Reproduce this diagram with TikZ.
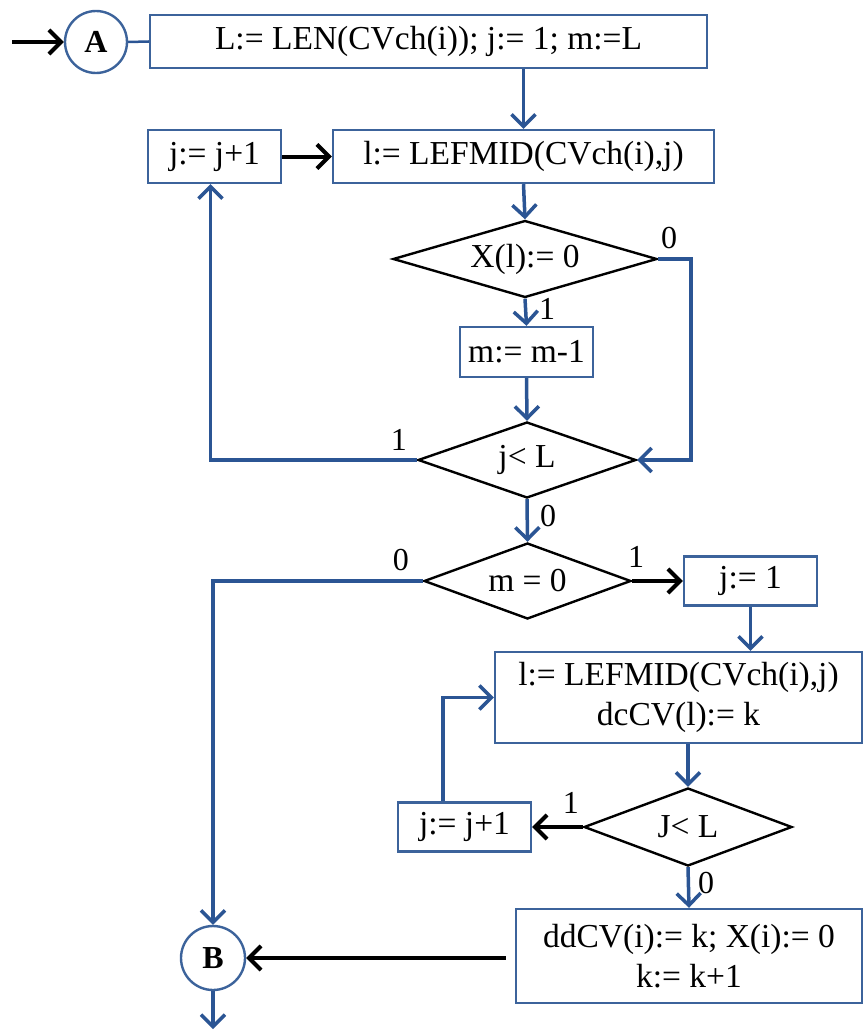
\documentclass[tikz,border=0pt]{standalone}
\usepackage{fontspec}
\setmainfont{Liberation Serif}
\usetikzlibrary{arrows.meta}
\usetikzlibrary{shapes.geometric}
\usetikzlibrary{positioning, calc}
\definecolor{fcblue}{HTML}{2B5594}
\definecolor{fcedge}{HTML}{3C639B}

\begin{document}
\begin{tikzpicture}[
    x=1pt, y=-1pt,
    line width=2.4pt,
    box/.style={draw=fcedge, fill=white, inner sep=0pt, align=center,
                font=\fontsize{33.5}{40}\selectfont},
    test/.style={diamond, draw=black, fill=white, inner sep=0pt,
                 font=\fontsize{33.5}{40}\selectfont},
    conn/.style={draw=fcblue, line width=3.5pt,
                 -{Straight Barb[length=12pt, width=24pt]}},
    link/.style={draw=black, line width=4pt,
                 -{Straight Barb[length=12pt, width=24pt]}},
    conn2/.style={draw=fcblue, line width=2.5pt},
    lbl/.style={inner sep=0pt, font=\fontsize{32}{36}\selectfont},
  ]
  \useasboundingbox (0,0) rectangle (864,1030);

  % ---- entry and first block ----
  \node[circle, draw=fcedge, fill=white, minimum size=62pt, inner sep=0pt,
        font=\fontsize{32}{36}\selectfont\bfseries] (A) at (96,42) {A};
  \node[box, minimum width=557pt, minimum height=53pt] (init) at (428.5,41.5)
    {L:= LEN(CVch(i)); j:= 1; m:=L};
  \coordinate (entry) at (12,42);
  \draw[link] (entry) -- (A.west);
  \draw[conn2] (A.east) -- (init.west);

  % ---- first loop ----
  \node[box, minimum width=381pt, minimum height=53pt] (lef1) at (523.5,156.5)
    {l:= LEFMID(CVch(i),j)};
  \node[box, minimum width=133pt, minimum height=53pt] (inc1) at (214.5,156.5)
    {j:= j+1};
  \node[test, aspect=3.43, minimum width=264pt, minimum height=77pt] (xtest)
    at (525,259) {X(l):= 0};
  \node[box, minimum width=133pt, minimum height=50pt] (dec) at (526.5,352)
    {m:= m-1};
  \node[test, aspect=2.87, minimum width=218pt, minimum height=76pt] (jtest)
    at (527,460) {j< L};

  \draw[conn] (lef1.north |- init.south) -- (lef1.north);
  \draw[link] (inc1.east) -- (lef1.west);
  \draw[conn] (lef1.south) -- (xtest.north);
  \draw[conn] (xtest.south) -- (dec.north);
  \draw[conn] (dec.south) -- (jtest.north);
  \draw[conn] (xtest.east) -- ++(33,0) |- (jtest.east);
  \draw[conn] (jtest.west) -| ([xshift=-4pt]inc1.south);

  \node[lbl] (xno) at ($(xtest.east)+(11,-21)$) {0};
  \node[lbl] (xyes) at ($(xtest.south)+(22,10)$) {1};
  \node[lbl] (jyes) at ($(jtest.west)+(-18,-20)$) {1};
  \node[lbl] (jno) at ($(jtest.south)+(21,17)$) {0};

  % ---- m = 0 test ----
  \node[test, aspect=2.72, minimum width=207pt, minimum height=76pt] (mtest)
    at (527.5,581) {m = 0};
  \node[box, minimum width=133pt, minimum height=49pt] (set1) at (750.5,581)
    {j:= 1};
  \node[circle, draw=fcedge, fill=white, minimum width=62pt, minimum height=64pt,
        inner sep=0pt, font=\fontsize{32}{36}\selectfont\bfseries] (B) at (213,958) {B};

  \draw[conn] (jtest.south) -- (mtest.north);
  \draw[conn] (mtest.west) -| (B.north);
  \draw[link] (mtest.east) -- (set1.west);
  \node[lbl] (mno) at ($(mtest.west)+(-22,-21)$) {0};
  \node[lbl] (myes) at ($(mtest.east)+(4,-24)$) {1};

  % ---- second loop ----
  \node[box, minimum width=367pt, minimum height=91pt] (lef2) at (678.5,697.5)
    {l:= LEFMID(CVch(i),j)\\dcCV(l):= k};
  \node[test, aspect=2.67, minimum width=208pt, minimum height=78pt] (Jtest)
    at (688,827) {J< L};
  \node[box, minimum width=133pt, minimum height=49pt] (inc2) at (464.5,827)
    {j:= j+1};
  \node[box, minimum width=346pt, minimum height=94pt] (fin) at (689,956)
    {ddCV(i):= k; X(i):= 0\\k:= k+1};

  \draw[conn] (set1.south) -- (set1.south |- lef2.north);
  \draw[conn] (Jtest.north |- lef2.south) -- (Jtest.north);
  \draw[link] (Jtest.west) -- (inc2.east);
  \coordinate (back) at ($(inc2.north)+(-21.5,0)$);
  \draw[conn] (back) |- (lef2.west);
  \draw[conn] (Jtest.south) -- (fin.north);
  \node[lbl] (Jyes) at ($(Jtest.west)+(-12,-24)$) {1};
  \node[lbl] (Jno) at ($(Jtest.south)+(18,16)$) {0};

  % ---- exit ----
  \draw[link, shorten <=9pt] (B.east -| fin.west) -- (B.east);
  \coordinate (exit) at (213,1029);
  \draw[conn] (B.south) -- (exit);
\end{tikzpicture}
\end{document}
